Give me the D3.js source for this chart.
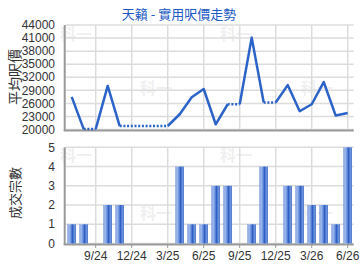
<!DOCTYPE html>
<html>
<head>
<meta charset="utf-8">
<script src="https://cdn.jsdelivr.net/npm/d3@7"></script>
<style>
  body { margin: 0; background: #fff; }
  svg { display: block; font-family: "Liberation Sans", Arial, sans-serif; }
  .cjk { font-family: "Noto Sans CJK TC", "Noto Sans CJK SC", sans-serif; }
</style>
</head>
<body>
<svg width="360" height="270"></svg>
<script>
// months shown on the x axis, Jul 2024 .. Jun 2026
var months = ["7/24","8/24","9/24","10/24","11/24","12/24","1/25","2/25","3/25","4/25","5/25","6/25",
              "7/25","8/25","9/25","10/25","11/25","12/25","1/26","2/26","3/26","4/26","5/26","6/26"];
// average price per sq ft (null = no deals that month)
var prices = [27500, 20100, null, 30000, 20800, null, null, null, null, 23500, 27400, 29300,
              21200, 25800, null, 41100, 26200, null, 30200, 24200, 25800, 30900, 23200, 23800];
// number of deals
var deals = [1, 1, 0, 2, 2, 0, 0, 0, 0, 4, 1, 1, 3, 3, 0, 1, 4, 0, 3, 3, 2, 2, 1, 5];
var priceTicks = [20000, 23000, 26000, 29000, 32000, 35000, 38000, 41000, 44000];
var dealTicks = [0, 1, 2, 3, 4, 5];
var tickMonths = ["9/24","12/24","3/25","6/25","9/25","12/25","3/26","6/26"];

var svg = d3.select("svg");
var left = 65.7, right = 353.7;

var x = d3.scaleLinear()
  .domain([-0.5, months.length - 0.5])
  .range([left, right]);

var yPrice = d3.scaleLinear().domain([20000, 44000]).range([129.5, 25]);
var yDeals = d3.scaleLinear().domain([0, 5]).range([243.5, 147.3]);

var tickIdx = tickMonths.map(function(m) { return months.indexOf(m); });

// gradient for the bars
var defs = svg.append("defs");
var grad = defs.append("linearGradient").attr("id", "barGrad")
  .attr("x1", 0).attr("x2", 1).attr("y1", 0).attr("y2", 0);
[[0, "#4a74cf"], [0.15, "#a9c2ef"], [0.35, "#7c9fe2"], [0.6, "#2f5fc6"], [0.82, "#6f94dc"], [1, "#3c68c9"]]
  .forEach(function(s) { grad.append("stop").attr("offset", s[0]).attr("stop-color", s[1]); });

// watermarks
var marks = [[76, 40], [236, 40], [156, 94], [317, 94], [76, 161], [236, 161], [156, 219], [317, 219]];
svg.append("g").selectAll("text").data(marks).enter().append("text")
  .attr("class", "cjk")
  .attr("x", function(d) { return d[0]; })
  .attr("y", function(d) { return d[1]; })
  .attr("text-anchor", "middle")
  .style("font-size", "16px").style("font-weight", "bold")
  .style("fill", "#f0f0f0")
  .text("科一");

function grid(yScale, ticks, top, bottom) {
  var g = svg.append("g");
  g.selectAll("line.h").data(ticks).enter().append("line")
    .attr("x1", left).attr("x2", right)
    .attr("y1", function(d) { return yScale(d); })
    .attr("y2", function(d) { return yScale(d); })
    .style("stroke", "#dcdcdc").style("stroke-width", 1.5);
  g.selectAll("line.v").data(tickIdx).enter().append("line")
    .attr("x1", function(d) { return x(d); })
    .attr("x2", function(d) { return x(d); })
    .attr("y1", top).attr("y2", bottom)
    .style("stroke", "#dcdcdc").style("stroke-width", 1.5);
  g.selectAll("text").data(ticks).enter().append("text")
    .attr("x", 55)
    .attr("y", function(d) { return yScale(d); })
    .attr("dy", "0.35em")
    .attr("text-anchor", "end")
    .style("font-size", "12px").style("fill", "#333")
    .text(function(d) { return d; });
  // axis lines
  g.append("line").attr("x1", left - 1).attr("x2", left - 1)
    .attr("y1", top).attr("y2", bottom + 1)
    .style("stroke", "#999").style("stroke-width", 2);
  g.append("line").attr("x1", left - 2).attr("x2", right)
    .attr("y1", bottom + 1).attr("y2", bottom + 1)
    .style("stroke", "#999").style("stroke-width", 2);
}

grid(yPrice, priceTicks, 25, 129.5);
grid(yDeals, dealTicks, 147.3, 243.5);

// price line: months without deals carry the last price and are dotted
var filled = [];
prices.forEach(function(p, i) { filled.push(p == null ? filled[i - 1] : p); });
var line = d3.line()
  .x(function(d) { return x(d[0]); })
  .y(function(d) { return yPrice(d[1]); });
var segs = [];
for (var i = 1; i < prices.length; i++) {
  var dotted = prices[i] == null;
  var last = segs[segs.length - 1];
  if (last && last.dotted == dotted) {
    last.pts.push([i, filled[i]]);
  } else {
    segs.push({ dotted: dotted, pts: [[i - 1, filled[i - 1]], [i, filled[i]]] });
  }
}
svg.append("g").selectAll("path").data(segs).enter().append("path")
  .attr("d", function(d) { return line(d.pts); })
  .style("fill", "none")
  .style("stroke", "#2b63c8")
  .style("stroke-width", 2.5)
  .style("stroke-linejoin", "round")
  .style("stroke-dasharray", function(d) { return d.dotted ? "2,1.7" : null; });

// deal bars
var bw = 8.4;
svg.append("g").selectAll("rect")
  .data(deals.map(function(d, i) { return { i: i, v: d }; }).filter(function(d) { return d.v > 0; }))
  .enter().append("rect")
  .attr("x", function(d) { return x(d.i) - bw / 2; })
  .attr("width", bw)
  .attr("y", function(d) { return yDeals(d.v); })
  .attr("height", function(d) { return yDeals(0) - yDeals(d.v); })
  .style("fill", "url(#barGrad)");

// x tick marks and labels
var xt = svg.append("g");
xt.selectAll("line").data(tickIdx).enter().append("line")
  .attr("x1", function(d) { return x(d); }).attr("x2", function(d) { return x(d); })
  .attr("y1", 244.5).attr("y2", 248)
  .style("stroke", "#999").style("stroke-width", 1);
xt.selectAll("text").data(tickIdx).enter().append("text")
  .attr("x", function(d) { return x(d); })
  .attr("y", 256)
  .attr("dy", "0.35em")
  .attr("text-anchor", "middle")
  .style("font-size", "12px").style("fill", "#333")
  .text(function(d) { return months[d]; });

// titles
svg.append("text").attr("class", "cjk")
  .attr("x", 179).attr("y", 14).attr("dy", "0.35em")
  .attr("text-anchor", "middle")
  .style("font-size", "13px").style("fill", "#2259c4")
  .text("天籟 - 實用呎價走勢");
svg.append("text").attr("class", "cjk")
  .attr("transform", "translate(15,77) rotate(-90)")
  .attr("dy", "0.35em").attr("text-anchor", "middle")
  .style("font-size", "14px").style("fill", "#333")
  .text("平均呎價");
svg.append("text").attr("class", "cjk")
  .attr("transform", "translate(15,193) rotate(-90)")
  .attr("dy", "0.35em").attr("text-anchor", "middle")
  .style("font-size", "13px").style("fill", "#333")
  .text("成交宗數");
</script>
</body>
</html>
